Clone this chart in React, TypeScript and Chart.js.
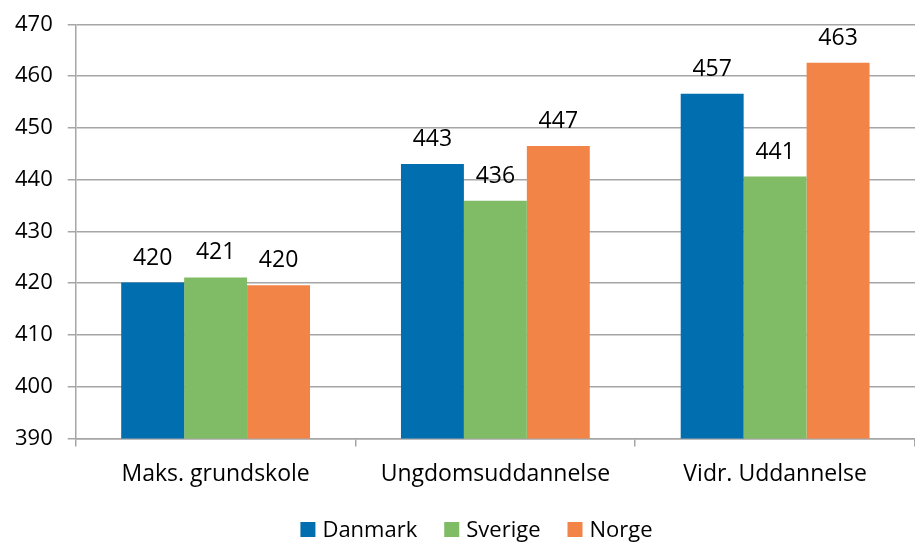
import React, { useEffect, useRef } from "react";
import { Chart, registerables } from "chart.js";

Chart.register(...registerables);

const categories = ["Maks. grundskole", "Ungdomsuddannelse", "Vidr. Uddannelse"];
const danmark = [420.1, 443.0, 456.6];
const sverige = [421.1, 435.9, 440.6];
const norge = [419.6, 446.5, 462.6];
const yTicks = [390, 400, 410, 420, 430, 440, 450, 460, 470];

const FONT = "'Open Sans', 'Noto Sans', sans-serif";

const labelPlugin = {
  id: "barLabels",
  afterDatasetsDraw(chart: any) {
    const ctx = chart.ctx;
    ctx.save();
    ctx.font = `23px ${FONT}`;
    ctx.fillStyle = "#000";
    ctx.textAlign = "center";
    ctx.textBaseline = "alphabetic";
    chart.data.datasets.forEach((ds: any, i: number) => {
      const meta = chart.getDatasetMeta(i);
      meta.data.forEach((bar: any, j: number) => {
        ctx.fillText(String(Math.round(ds.data[j])), bar.x, bar.y - 18);
      });
    });
    ctx.restore();
  },
};

const legendPlugin = {
  id: "customLegend",
  afterDraw(chart: any) {
    const ctx = chart.ctx;
    ctx.save();
    ctx.font = `22px ${FONT}`;
    ctx.textBaseline = "alphabetic";
    ctx.textAlign = "left";
    const box = 15;
    const gapText = 7;
    const gapItem = 27;
    const items = chart.data.datasets.map((ds: any) => ({
      label: ds.label,
      color: ds.backgroundColor,
      w: ctx.measureText(ds.label).width,
    }));
    const total =
      items.reduce((s: number, it: any) => s + box + gapText + it.w, 0) + gapItem * (items.length - 1);
    const cx = chart.width / 2 + 19;
    let x = cx - total / 2;
    const yBox = 522;
    const yText = 537;
    items.forEach((it: any) => {
      ctx.fillStyle = it.color;
      ctx.fillRect(x, yBox, box, box);
      ctx.fillStyle = "#000";
      ctx.fillText(it.label, x + box + gapText, yText);
      x += box + gapText + it.w + gapItem;
    });
    ctx.restore();
  },
};

export default function App() {
  const ref = useRef<HTMLCanvasElement>(null);
  useEffect(() => {
    const chart = new Chart(ref.current!, {
      type: "bar",
      data: {
        labels: categories,
        datasets: [
          { label: "Danmark", data: danmark, backgroundColor: "#006EAF" },
          { label: "Sverige", data: sverige, backgroundColor: "#80BB65" },
          { label: "Norge", data: norge, backgroundColor: "#F38447" },
        ],
      },
      options: {
        animation: false,
        responsive: false,
        maintainAspectRatio: false,
        layout: { padding: { top: 0, right: 0, left: 0, bottom: 40 } },
        datasets: { bar: { categoryPercentage: 0.675, barPercentage: 1 } } as any,
        plugins: {
          legend: { display: false },
          tooltip: { enabled: false },
        },
        scales: {
          x: {
            grid: { drawOnChartArea: false, offset: true, tickLength: 8, color: "#a6a6a6", lineWidth: 1.5 },
            border: { color: "#a6a6a6", width: 1.5 },
            ticks: { font: { family: FONT, size: 23 }, color: "#000", padding: 14 },
          },
          y: {
            min: 390,
            max: 470,
            afterBuildTicks: (axis: any) => {
              axis.ticks = yTicks.map((v) => ({ value: v }));
            },
            grid: { color: "#a6a6a6", lineWidth: 1.5, tickLength: 8 },
            border: { color: "#a6a6a6", width: 1.5 },
            ticks: { font: { family: FONT, size: 22, lineHeight: 0.85 }, color: "#000", padding: 15 },
          },
        },
      },
      plugins: [labelPlugin, legendPlugin],
    });
    return () => chart.destroy();
  }, []);
  return (
    <div style={{ position: "fixed", left: 0, top: 0, width: 915, height: 542, background: "#fff" }}>
      <canvas ref={ref} width={915} height={542} />
    </div>
  );
}
